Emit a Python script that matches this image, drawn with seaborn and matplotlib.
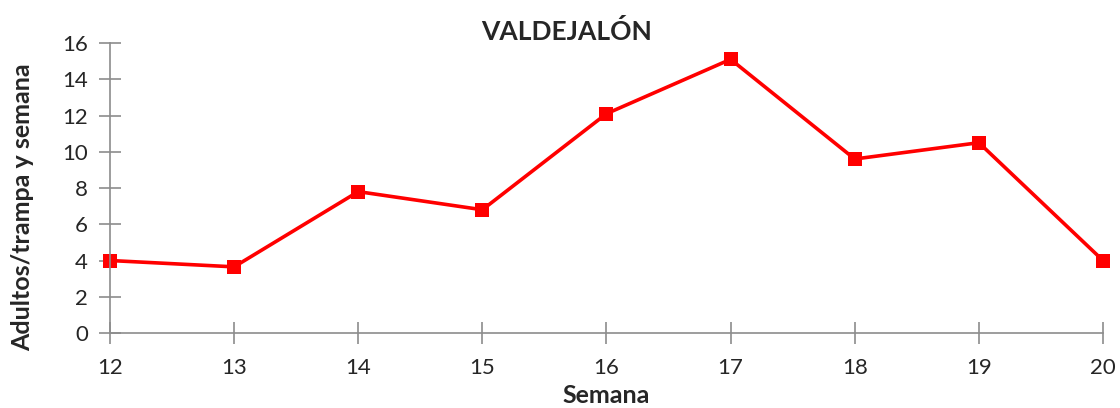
import numpy as np
import pandas as pd
import matplotlib
matplotlib.use("Agg")
import matplotlib.pyplot as plt
import seaborn as sns

# data
semanas = [12, 13, 14, 15, 16, 17, 18, 19, 20]
adultos = [4.0, 3.65, 7.8, 6.8, 12.1, 15.1, 9.6, 10.5, 4.0]
y_ticks = [0, 2, 4, 6, 8, 10, 12, 14, 16]

df = pd.DataFrame({"Semana": semanas, "Adultos": adultos})

sns.set_style("white")
plt.rcParams["font.family"] = ["Lato", "DejaVu Sans"]

fig = plt.figure(figsize=(11.2, 4.08), dpi=100)
ax = fig.add_axes([0.0982, 0.1838, 0.8866, 0.7108])

sns.lineplot(data=df, x="Semana", y="Adultos", ax=ax, color="#ff0000",
             linewidth=2.6, marker="s", markersize=10, markeredgewidth=0)
for ln in ax.lines:
    ln.set_clip_on(False)

ax.set_xlim(12, 20)
ax.set_ylim(0, 16)
ax.set_xticks(semanas)
ax.set_yticks(y_ticks)

gray = "#8c8c8c"
for side in ["top", "right"]:
    ax.spines[side].set_visible(False)
for side in ["left", "bottom"]:
    ax.spines[side].set_color(gray)
    ax.spines[side].set_linewidth(1.2)
ax.tick_params(axis="both", direction="inout", length=16, width=1.2,
               color=gray, labelsize=16, bottom=True, left=True)
ax.tick_params(axis="y", pad=8)
ax.tick_params(axis="x", pad=10)

ax.set_xlabel("Semana", fontsize=18, fontweight="bold", labelpad=4)
ax.set_ylabel("Adultos/trampa y semana", fontsize=18, fontweight="bold")
ax.yaxis.set_label_coords(-0.076, 0.434)
fig.text(567 / 1120, 1 - 32 / 408, "VALDEJALÓN", ha="center", va="center",
         fontsize=19, fontweight="bold")

fig.savefig("out.png", dpi=100)
